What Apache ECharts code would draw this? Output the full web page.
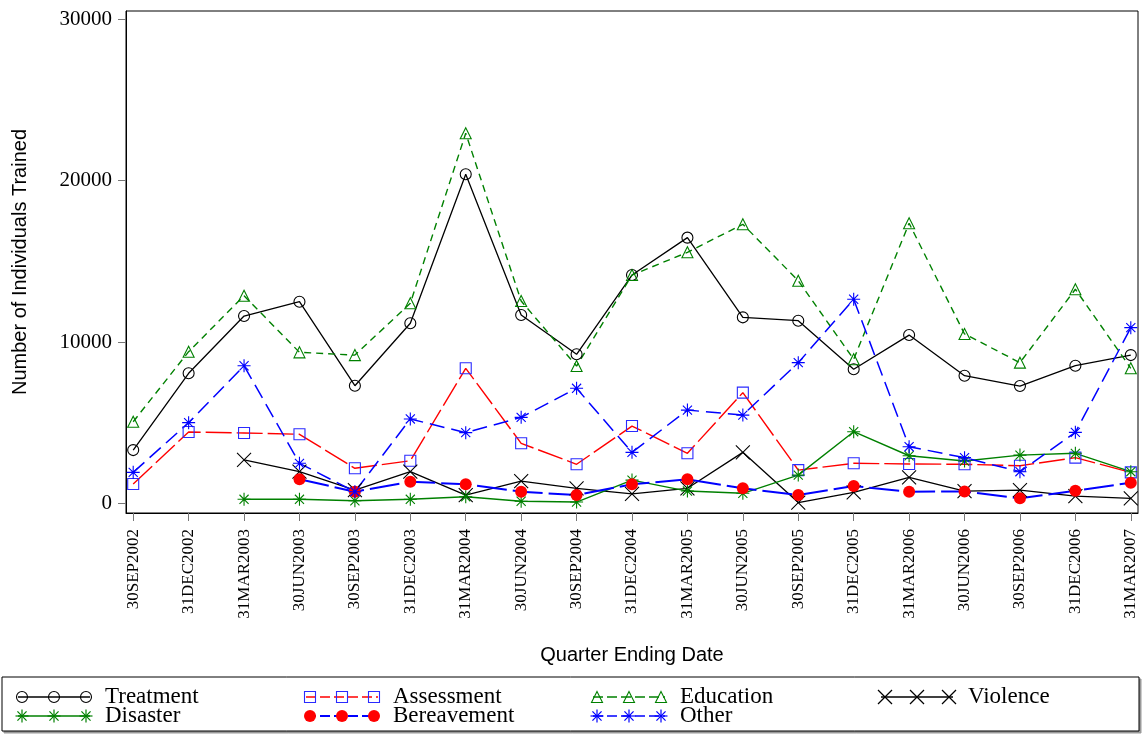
<!DOCTYPE html>
<html>
<head>
<meta charset="utf-8">
<script src="https://cdn.jsdelivr.net/npm/echarts@6/dist/echarts.min.js"></script>
<style>
  html, body { margin: 0; padding: 0; background: #fff; }
  #main { width: 1143px; height: 734px; }
</style>
</head>
<body>
<div id="main"></div>
<script>
// quarters on the x axis
var quarters = ['30SEP2002', '31DEC2002', '31MAR2003', '30JUN2003', '30SEP2003', '31DEC2003',
  '31MAR2004', '30JUN2004', '30SEP2004', '31DEC2004', '31MAR2005', '30JUN2005', '30SEP2005',
  '31DEC2005', '31MAR2006', '30JUN2006', '30SEP2006', '31DEC2006', '31MAR2007'];

var yTicks = [0, 10000, 20000, 30000];

// values
var treatment = [3300, 8060, 11610, 12500, 7290, 11160, 20400, 11670, 9240, 14150, 16470, 11530, 11320, 8310, 10430, 7910, 7270, 8530, 9190];
var assessment = [1200, 4420, 4360, 4280, 2170, 2640, 8370, 3720, 2420, 4790, 3100, 6860, 2060, 2480, 2440, 2420, 2330, 2830, 1920];
var education = [5060, 9400, 12870, 9360, 9190, 12400, 22940, 12540, 8510, 14150, 15560, 17300, 13800, 8930, 17360, 10500, 8720, 13270, 8370];
var violence = [null, null, 2690, 1960, 820, 1960, 510, 1380, 930, 580, 930, 3160, 50, 680, 1610, 760, 820, 450, 310];
var disaster = [null, null, 250, 250, 160, 250, 410, 130, 80, 1440, 760, 620, 1750, 4440, 2950, 2620, 2990, 3100, 1960];
var bereavement = [null, null, null, 1490, 720, 1340, 1180, 720, 510, 1180, 1490, 930, 510, 1070, 720, 740, 310, 780, 1280];
var other = [1920, 5000, 8530, 2480, 720, 5230, 4380, 5330, 7130, 3160, 5780, 5470, 8720, 12650, 3510, 2830, 1960, 4400, 10890];

var X_PATH = 'path://M0,0L10,10M10,0L0,10';
var STAR_PATH = 'path://M5,0L5,10M0,5L10,5M1.5,1.5L8.5,8.5M8.5,1.5L1.5,8.5';

// style of each series (legend order)
var styles = [
  { name: 'Treatment', data: treatment, line: '#000', dash: 'solid', w: 1.3, sym: 'circle', symColor: '#000', fill: false, size: 11, lx: 18, ly: 697 },
  { name: 'Assessment', data: assessment, line: '#ff0000', dash: [26, 5], w: 1.4, sym: 'rect', symColor: '#2a2aff', fill: false, size: 11, lx: 306, ly: 697 },
  { name: 'Education', data: education, line: '#008000', dash: [7, 5], w: 1.4, sym: 'triangle', symColor: '#008000', fill: false, size: 11, lx: 593, ly: 697 },
  { name: 'Violence', data: violence, line: '#000', dash: 'solid', w: 1.3, sym: 'x', symColor: '#000', fill: false, size: 14, lx: 881, ly: 697 },
  { name: 'Disaster', data: disaster, line: '#008000', dash: 'solid', w: 1.4, sym: 'star', symColor: '#008000', fill: false, size: 13, lx: 18, ly: 716 },
  { name: 'Bereavement', data: bereavement, line: '#0000ff', dash: [30, 6], w: 2, sym: 'circle', symColor: '#ff0000', fill: true, size: 12, lx: 306, ly: 716 },
  { name: 'Other', data: other, line: '#0000ff', dash: [15, 7], w: 1.5, sym: 'star', symColor: '#0000ff', fill: false, size: 13, lx: 593, ly: 716 }
];

function ecSymbol(s) {
  if (s.sym === 'x') return X_PATH;
  if (s.sym === 'star') return STAR_PATH;
  return s.sym;
}

var series = styles.map(function (s) {
  return {
    name: s.name,
    type: 'line',
    data: s.data.map(function (v, i) { return [i, v]; }),
    connectNulls: false,
    symbol: ecSymbol(s),
    symbolSize: s.size,
    showSymbol: true,
    lineStyle: { color: s.line, width: s.w, type: s.dash },
    itemStyle: {
      color: s.fill ? s.symColor : 'transparent',
      borderColor: s.symColor,
      borderWidth: s.fill ? 0 : 1.1
    },
    emphasis: { disabled: true },
    z: 2
  };
});

// legend drawn as graphics: a line with three markers and the label
function legendSymbol(s, cx, cy) {
  var st = { fill: s.fill ? s.symColor : 'none', stroke: s.symColor, lineWidth: s.fill ? 0 : 1.1 };
  var r = s.size / 2;
  if (s.sym === 'circle') return [{ type: 'circle', shape: { cx: cx, cy: cy, r: r }, style: st, z: 101 }];
  if (s.sym === 'rect') return [{ type: 'rect', shape: { x: cx - r, y: cy - r, width: 2 * r, height: 2 * r }, style: st, z: 101 }];
  if (s.sym === 'triangle') return [{ type: 'polygon', shape: { points: [[cx, cy - r], [cx + r, cy + r], [cx - r, cy + r]] }, style: st, z: 101 }];
  var segs = [[-r, -r, r, r], [r, -r, -r, r]];
  if (s.sym === 'star') segs = [[0, -r, 0, r], [-r, 0, r, 0], [-0.7 * r, -0.7 * r, 0.7 * r, 0.7 * r], [0.7 * r, -0.7 * r, -0.7 * r, 0.7 * r]];
  return segs.map(function (g) {
    return { type: 'line', shape: { x1: cx + g[0], y1: cy + g[1], x2: cx + g[2], y2: cy + g[3] }, style: { stroke: s.symColor, lineWidth: 1.2 }, z: 101 };
  });
}

var graphics = [
  { type: 'rect', shape: { x: 4, y: 679, width: 1137, height: 54 }, style: { fill: '#999', stroke: '#999' }, z: 98 },
  { type: 'rect', shape: { x: 2, y: 677, width: 1137, height: 54 }, style: { fill: '#fff', stroke: '#000', lineWidth: 1 }, z: 99 }
];
styles.forEach(function (s) {
  graphics.push({ type: 'line', shape: { x1: s.lx, y1: s.ly, x2: s.lx + 72, y2: s.ly },
    style: { stroke: s.line, lineWidth: s.w, lineDash: s.dash === 'solid' ? null : [10, 4] }, z: 100 });
  [s.lx + 4, s.lx + 36, s.lx + 68].forEach(function (cx) {
    graphics = graphics.concat(legendSymbol(s, cx, s.ly));
  });
  graphics.push({ type: 'text', x: s.lx + 87, y: s.ly, style: { text: s.name, font: '23px "Liberation Serif"', fill: '#000', verticalAlign: 'middle' }, z: 101 });
});

var chart = echarts.init(document.getElementById('main'), null, { renderer: 'canvas' });
chart.setOption({
  animation: false,
  backgroundColor: '#fff',
  grid: { left: 126, top: 11, right: 5, bottom: 221, show: true, borderColor: '#000', borderWidth: 1, containLabel: false },
  xAxis: {
    type: 'value',
    min: -0.13,
    max: 18.13,
    name: 'Quarter Ending Date',
    nameLocation: 'middle',
    nameGap: 132,
    nameTextStyle: { fontFamily: 'Liberation Sans', fontSize: 20, color: '#000' },
    axisLine: { show: true, onZero: false, lineStyle: { color: '#000', width: 1 } },
    axisTick: { show: true, length: 8, customValues: quarters.map(function (q, i) { return i; }), lineStyle: { color: '#777' } },
    axisLabel: {
      customValues: quarters.map(function (q, i) { return i; }),
      rotate: 90,
      margin: 16,
      fontFamily: 'Liberation Serif',
      fontSize: 17,
      color: '#000',
      formatter: function (v) { return quarters[Math.round(v)]; }
    },
    splitLine: { show: false }
  },
  yAxis: {
    type: 'value',
    min: -600,
    max: 30520,
    name: 'Number of Individuals Trained',
    nameLocation: 'middle',
    nameGap: 96,
    nameTextStyle: { fontFamily: 'Liberation Sans', fontSize: 20, color: '#000' },
    axisLine: { show: true, onZero: false, lineStyle: { color: '#000', width: 1 } },
    axisTick: { show: true, length: 8, customValues: yTicks, lineStyle: { color: '#777' } },
    axisLabel: {
      customValues: yTicks,
      margin: 14,
      fontFamily: 'Liberation Serif',
      fontSize: 21,
      color: '#000',
      formatter: function (v) { return String(v); }
    },
    splitLine: { show: false }
  },
  series: series,
  graphic: graphics
});
</script>
</body>
</html>
